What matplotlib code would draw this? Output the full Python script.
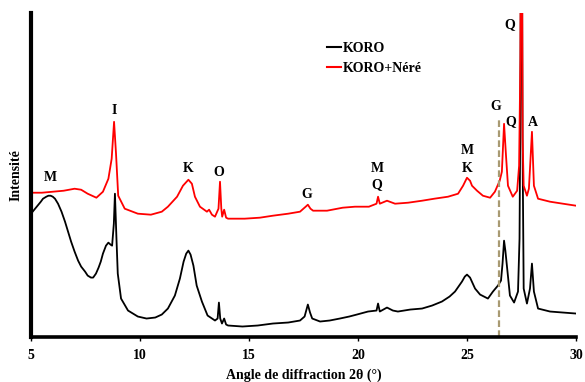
import matplotlib
matplotlib.use("Agg")
import matplotlib.pyplot as plt
from matplotlib.lines import Line2D

# 2theta (deg) / intensity (arbitrary units)
koro_2t = [5.0, 5.15, 5.3, 5.45, 5.55, 5.7, 5.8, 5.9, 6.0, 6.1, 6.24, 6.4, 6.56, 6.7, 6.84,
           7.0, 7.16, 7.3, 7.48, 7.6, 7.75, 7.85, 7.98, 8.1, 8.2, 8.3, 8.44,
           8.55, 8.65, 8.72, 8.8, 8.85, 8.92, 8.98, 9.13, 9.45, 9.9, 10.3, 10.7, 11.0,
           11.28, 11.6, 11.83, 12.0, 12.12, 12.22, 12.32, 12.45, 12.6, 12.84, 13.1, 13.44,
           13.56, 13.62, 13.68, 13.76, 13.86, 13.95, 14.04, 14.7, 15.4, 16.1, 16.8, 17.34,
           17.55, 17.7, 17.8, 17.9, 18.26, 18.7, 19.17, 19.6, 19.95, 20.46, 20.85, 20.92,
           21.0, 21.33, 21.6, 21.83, 22.4, 22.94, 23.4, 23.85, 24.2, 24.45, 24.77, 24.9,
           25.0, 25.14, 25.37, 25.6, 25.96, 26.19, 26.42, 26.56, 26.63, 26.7, 26.76, 26.83,
           26.97, 27.16, 27.34, 27.41, 27.45, 27.5, 27.55, 27.6, 27.75, 27.89, 27.98, 28.07,
           28.26, 28.81, 29.4, 30.0]
koro_i = [124, 128, 132, 136, 139, 141, 142, 142, 141, 139, 134, 126, 116, 106, 96,
          86, 77, 71, 66, 62, 60, 60, 64, 70, 76, 84, 92,
          95, 93, 92, 114, 144, 99, 64, 39, 27, 21, 19, 20, 23,
          29, 42, 59, 76, 84, 87, 83, 72, 52, 36, 22, 17,
          19, 35, 19, 14, 19, 13, 12, 11, 12, 14, 15, 17,
          21, 33, 25, 19, 16, 17, 19, 21, 23, 26, 27, 34,
          26, 30, 27, 26, 28, 29, 32, 36, 41, 46, 56, 61,
          63, 60, 49, 43, 39, 46, 52, 57, 74, 97, 87, 72,
          42, 35, 46, 99, 239, 560, 189, 49, 34, 49, 74, 46,
          29, 26, 25, 24]

nere_2t = [5.0, 5.5, 6.0, 6.5, 7.0, 7.3, 7.6, 8.0, 8.3, 8.55, 8.7, 8.81, 8.9, 9.0, 9.3,
           9.9, 10.5, 11.0, 11.28, 11.7, 11.97, 12.22, 12.38, 12.52, 12.75, 13.07, 13.17,
           13.3, 13.44, 13.6, 13.67, 13.73, 13.77, 13.86, 13.95, 14.04, 14.8, 15.5, 16.1,
           16.8, 17.34, 17.6, 17.7, 17.82, 17.94, 18.58, 19.3, 19.86, 20.5, 20.85, 20.92,
           21.0, 21.33, 21.7, 22.3, 22.94, 23.5, 24.13, 24.59, 24.82, 25.0, 25.14, 25.23,
           25.46, 25.73, 26.06, 26.28, 26.5, 26.6, 26.7, 26.79, 26.88, 27.1, 27.3, 27.39,
           27.45, 27.5, 27.55, 27.6, 27.75, 27.84, 27.98, 28.07, 28.26, 28.81, 29.4, 30.0]
nere_i = [145, 145, 146, 147, 149, 148, 144, 140, 146, 159, 179, 216, 184, 142, 129,
          124, 123, 126, 131, 141, 152, 158, 154, 141, 131, 126, 128,
          123, 121, 129, 156, 129, 121, 128, 120, 119, 119, 120, 122,
          124, 126, 131, 133, 129, 127, 127, 130, 131, 131, 134, 141,
          134, 137, 134, 135, 137, 139, 141, 144, 152, 160, 157, 152,
          147, 142, 140, 146, 157, 166, 214, 182, 152, 141, 147, 172,
          279, 650, 200, 152, 142, 149, 206, 152, 139, 136, 134, 132]

# peak labels: (2theta, height, text)
peak_labels = [(5.87, 160, "M"), (8.81, 227, "I"), (12.2, 169, "K"), (13.62, 165, "O"),
               (17.66, 143, "G"), (20.87, 169, "M"), (20.87, 153, "Q"), (25.0, 187, "M"),
               (25.0, 169, "K"), (26.33, 231, "G"), (27.0, 216, "Q"), (28.0, 215, "A"),
               (26.95, 313, "Q")]
g_line_2t = 26.47

plt.rcParams['font.family'] = ['Liberation Serif', 'DejaVu Serif']
plt.rcParams['font.weight'] = 'bold'

fig = plt.figure(figsize=(5.85, 3.82), dpi=100)
ax = fig.add_axes([0.053, 0.1165, 0.9316, 0.8495])

ax.plot(koro_2t, koro_i, color="black", lw=1.3)
ax.plot(nere_2t, nere_i, color="#ff0000", lw=1.3)
ax.plot([g_line_2t, g_line_2t], [0, 221], color="#a89a72", lw=1.6, ls=(0, (3, 1.5)))

for x, y, t in peak_labels:
    ax.text(x, y, t, ha="center", va="center", fontsize=10, fontweight="bold")

ax.set_xlim(5, 30)
ax.set_ylim(0, 325)
ax.set_xticks([5, 10, 15, 20, 25, 30])
ax.tick_params(axis="x", direction="out", length=3, width=1, labelsize=10, pad=5)
ax.set_yticks([])
for lab in ax.get_xticklabels():
    lab.set_fontweight("bold")
ax.spines["top"].set_visible(False)
ax.spines["right"].set_visible(False)
ax.spines["left"].set_linewidth(3)
ax.spines["bottom"].set_linewidth(2.6)

ax.set_xlabel("Angle de diffraction 2θ (°)", fontsize=10, fontweight="bold", labelpad=5)
ax.set_ylabel("Intensité", fontsize=10, fontweight="bold", labelpad=6)

handles = [Line2D([], [], color="black", lw=1.5), Line2D([], [], color="#ff0000", lw=1.5)]
ax.legend(handles, ["KORO", "KORO+Néré"], loc="upper left", bbox_to_anchor=(0.52, 0.95),
          frameon=False, handlelength=1.0, handletextpad=0.15, labelspacing=0.5,
          prop={"weight": "bold", "size": 10})

plt.savefig("out.png", dpi=100)
